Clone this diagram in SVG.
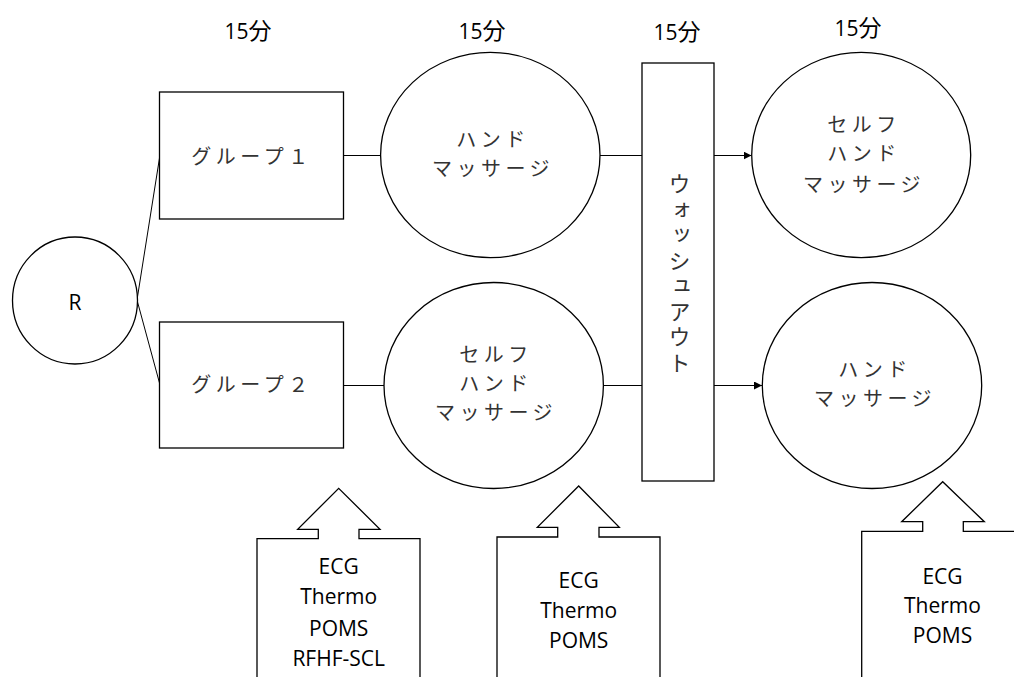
<svg xmlns="http://www.w3.org/2000/svg" width="1014" height="677" viewBox="0 0 1014 677">
  <style>
    .shape { fill: #ffffff; stroke: #000000; stroke-width: 1.3; }
    .conn { fill: none; stroke: #000000; stroke-width: 1; }
    .jp { font-family: "Noto Sans CJK JP", "Noto Sans", sans-serif; font-size: 20px; font-weight: 400; fill: #333333; text-anchor: middle; letter-spacing: 4.5px; }
    .en { font-family: "Open Sans", "Noto Sans", sans-serif; font-size: 21px; fill: #000000; text-anchor: middle; }
    .time { font-family: "Open Sans", "Noto Sans CJK JP", sans-serif; font-size: 21px; fill: #000000; text-anchor: middle; }
    .time tspan.k { font-family: "Noto Sans CJK JP", sans-serif; font-size: 23px; }
    .vt { font-family: "Noto Sans CJK JP", sans-serif; font-size: 22px; font-weight: 400; fill: #333333; writing-mode: vertical-rl; letter-spacing: 3.5px; }
  </style>
  <defs>
    <marker id="arrow" viewBox="0 0 10 10" refX="10" refY="5" markerWidth="8" markerHeight="8" markerUnits="userSpaceOnUse" orient="auto">
      <path d="M0,0 L10,5 L0,10 z" fill="#000000"/>
    </marker>
  </defs>
  <rect width="1014" height="677" fill="#ffffff"/>

  <!-- duration labels -->
  <g id="durations">
    <text class="time" x="248" y="39">15<tspan class="k">分</tspan></text>
    <text class="time" x="482" y="39">15<tspan class="k">分</tspan></text>
    <text class="time" x="677" y="40">15<tspan class="k">分</tspan></text>
    <text class="time" x="858" y="36">15<tspan class="k">分</tspan></text>
  </g>

  <!-- connectors -->
  <g id="connectors">
    <line class="conn" x1="137" y1="300" x2="159.5" y2="158"/>
    <line class="conn" x1="137" y1="300" x2="159.5" y2="383"/>
    <line class="conn" x1="343.5" y1="155.5" x2="380.5" y2="155.5"/>
    <line class="conn" x1="343.5" y1="385.5" x2="384" y2="385.5"/>
    <line class="conn" x1="600" y1="155.5" x2="642" y2="155.5"/>
    <line class="conn" x1="603.5" y1="385.5" x2="642" y2="385.5"/>
    <line class="conn" x1="714" y1="155.5" x2="751.5" y2="155.5" marker-end="url(#arrow)"/>
    <line class="conn" x1="714" y1="385.5" x2="762" y2="385.5" marker-end="url(#arrow)"/>
  </g>

  <g id="node-r">
    <ellipse class="shape" cx="75" cy="300.5" rx="62.5" ry="63.5"/>
    <text class="en" x="75" y="310">R</text>
  </g>

  <g id="node-group1">
    <rect class="shape" x="159.5" y="92" width="184" height="127"/>
    <text class="jp" x="252" y="164">グループ１</text>
  </g>

  <g id="node-group2">
    <rect class="shape" x="159.5" y="322" width="184" height="126"/>
    <text class="jp" x="252" y="392">グループ２</text>
  </g>

  <g id="node-hand1">
    <ellipse class="shape" cx="490.3" cy="155" rx="109.7" ry="102.7"/>
    <text class="jp" x="493" y="147">ハンド<tspan x="493" dy="28.5">マッサージ</tspan></text>
  </g>

  <g id="node-self1">
    <ellipse class="shape" cx="493.7" cy="385.5" rx="109.7" ry="103"/>
    <text class="jp" x="496" y="362">セルフ<tspan x="496" dy="28.5">ハンド</tspan><tspan x="496" dy="29.5">マッサージ</tspan></text>
  </g>

  <g id="node-washout">
    <rect class="shape" x="642" y="63" width="72" height="418"/>
    <text class="vt" x="679.5" y="173">ウォッシュアウト</text>
  </g>

  <g id="node-self2">
    <ellipse class="shape" cx="861.2" cy="155" rx="109.5" ry="102.7"/>
    <text class="jp" x="864" y="132">セルフ<tspan x="864" dy="29">ハンド</tspan><tspan x="864" dy="31">マッサージ</tspan></text>
  </g>

  <g id="node-hand2">
    <ellipse class="shape" cx="872" cy="385.5" rx="109.7" ry="103"/>
    <text class="jp" x="875" y="377">ハンド<tspan x="875" dy="28.5">マッサージ</tspan></text>
  </g>

  <!-- measurement callouts -->
  <g id="callout-1">
    <path class="shape" d="M257,680 L257,538.7 L318.3,538.7 L318.3,529.3 L297.7,529.3 L338.7,488.3 L380,529.3 L359,529.3 L359,538.7 L420,538.7 L420,680"/>
    <text class="en" x="338.7" y="574">ECG<tspan x="338.7" dy="30">Thermo</tspan><tspan x="338.7" dy="31.5">POMS</tspan><tspan x="338.7" dy="30">RFHF-SCL</tspan></text>
  </g>

  <g id="callout-2">
    <path class="shape" d="M497,680 L497,537 L557.7,537 L557.7,527.3 L537.3,527.3 L578.7,486 L619.3,527.3 L599,527.3 L599,537 L660,537 L660,680"/>
    <text class="en" x="578.7" y="587.5">ECG<tspan x="578.7" dy="30">Thermo</tspan><tspan x="578.7" dy="30">POMS</tspan></text>
  </g>

  <g id="callout-3">
    <path class="shape" d="M861.7,680 L861.7,531.3 L922.7,531.3 L922.7,521.7 L901.7,521.7 L942.7,481.7 L984.3,521.7 L963.3,521.7 L963.3,531.3 L1024,531.3 L1024,680"/>
    <text class="en" x="942.5" y="584">ECG<tspan x="942.5" dy="28.5">Thermo</tspan><tspan x="942.5" dy="30">POMS</tspan></text>
  </g>
</svg>
